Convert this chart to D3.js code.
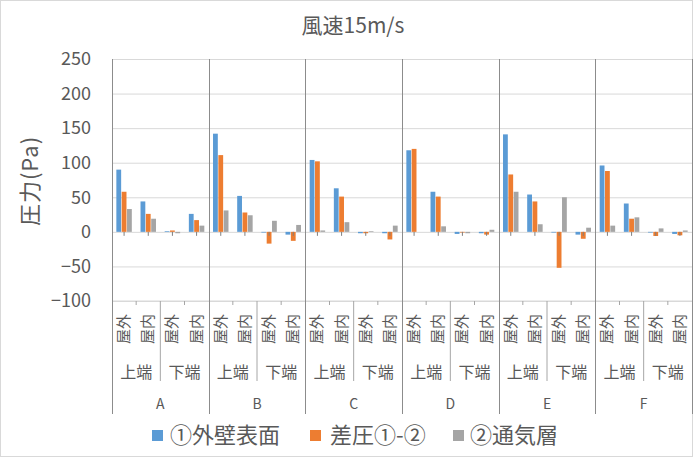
<!DOCTYPE html>
<html>
<head>
<meta charset="utf-8">
<script src="https://cdn.jsdelivr.net/npm/d3@7"></script>
<style>
  body { margin: 0; background: #fff; }
  text { font-family: "Noto Sans CJK JP", "Noto Sans", sans-serif; fill: #595959; }
</style>
</head>
<body>
<div id="chart"></div>
<script>
const groups = ["A", "B", "C", "D", "E", "F"];
const positions = ["上端", "下端"];
const sides = ["屋外", "屋内"];
const seriesNames = ["①外壁表面", "差圧①-②", "②通気層"];
const yTicks = [-100, -50, 0, 50, 100, 150, 200, 250];

// 24 values each: A上外, A上内, A下外, A下内, B上外 ...
const outerWall = [90, 44, 1, 26, 142, 52, -1, -4, 104, 63, -2, -2, 118, 58, -3, -2, 141, 54, -1, -4, 96, 41, -1, -3];
const diffPress = [58, 26, 2, 17, 111, 28, -17, -13, 102, 51, -2, -11, 120, 51, -1, -4, 83, 44, -52, -10, 88, 19, -6, -5];
const airLayer = [33, 19, -2, 9, 31, 24, 16, 10, 2, 14, 1, 9, 0, 8, -2, 3, 58, 11, 50, 6, 9, 21, 5, 2];

const colors = ["#5B9BD5", "#ED7D31", "#A5A5A5"];
const seriesValues = [outerWall, diffPress, airLayer];

const width = 693, height = 457;
const margin = { top: 59, right: 1, bottom: 156, left: 112 };
const plotBottom = height - margin.bottom; // y of -100

const categories = [];
groups.forEach(g => positions.forEach(p => sides.forEach(s => categories.push(`${g}|${p}|${s}`))));

const svg = d3.select("#chart").append("svg")
  .attr("width", width)
  .attr("height", height);

svg.append("rect")
  .attr("x", 0.5).attr("y", 0.5)
  .attr("width", width - 1).attr("height", height - 1)
  .attr("fill", "#fff").attr("stroke", "#d9d9d9");

const x = d3.scaleBand()
  .domain(categories)
  .range([margin.left, width - margin.right])
  .padding(0);

const bw = x.bandwidth();
const xInner = d3.scaleBand()
  .domain(d3.range(3))
  .range([bw * 0.18, bw * 0.82])
  .paddingInner(0.1);

const y = d3.scaleLinear()
  .domain([-100, 250])
  .range([plotBottom, margin.top]);

// gridlines
svg.append("g")
  .attr("transform", `translate(${margin.left},0)`)
  .call(d3.axisLeft(y).tickValues(yTicks).tickSize(-(width - margin.right - margin.left)).tickFormat(""))
  .call(g => g.select(".domain").remove())
  .call(g => g.selectAll(".tick line").attr("stroke", "#d9d9d9").attr("stroke-width", 1));

// y labels
svg.append("g")
  .attr("transform", `translate(${margin.left - 21},0)`)
  .call(d3.axisLeft(y).tickValues(yTicks).tickSize(0).tickPadding(0))
  .call(g => g.select(".domain").remove())
  .call(g => g.selectAll(".tick text")
    .attr("font-size", "18px")
    .attr("fill", "#595959")
    .style("font-family", "'Noto Sans CJK JP', sans-serif"));

// bars
seriesValues.forEach((vals, si) => {
  svg.append("g")
    .selectAll("rect")
    .data(vals)
    .join("rect")
    .attr("x", (d, i) => x(categories[i]) + xInner(si))
    .attr("width", xInner.bandwidth())
    .attr("y", d => y(Math.max(0, d)))
    .attr("height", d => Math.abs(y(d) - y(0)))
    .attr("fill", colors[si]);
});

// small ticks under zero line at category centers
svg.append("g")
  .selectAll("line")
  .data(categories)
  .join("line")
  .attr("x1", d => x(d) + bw / 2)
  .attr("x2", d => x(d) + bw / 2)
  .attr("y1", y(0))
  .attr("y2", y(0) + 4)
  .attr("stroke", "#7f7f7f");

// category axis line at bottom
svg.append("line")
  .attr("x1", margin.left).attr("x2", width - margin.right)
  .attr("y1", plotBottom).attr("y2", plotBottom)
  .attr("stroke", "#d9d9d9");

// ticks between 屋外/屋内
svg.append("g")
  .selectAll("line")
  .data(categories.filter((d, i) => i % 2 === 1))
  .join("line")
  .attr("x1", d => x(d)).attr("x2", d => x(d))
  .attr("y1", plotBottom).attr("y2", plotBottom + 4)
  .attr("stroke", "#a6a6a6");

// sub-group separators (上端/下端)
const subStarts = categories.filter((d, i) => i % 4 === 2);
svg.append("g")
  .selectAll("line")
  .data(subStarts)
  .join("line")
  .attr("x1", d => x(d)).attr("x2", d => x(d))
  .attr("y1", plotBottom).attr("y2", 381)
  .attr("stroke", "#a6a6a6");

// group separators
const groupEdges = groups.map(g => x(`${g}|上端|屋外`)).concat([width - margin.right]);
svg.append("g")
  .selectAll("line")
  .data(groupEdges)
  .join("line")
  .attr("x1", d => Math.round(d) + 0.5).attr("x2", d => Math.round(d) + 0.5)
  .attr("y1", margin.top).attr("y2", 414)
  .attr("stroke", "#8c8c8c");

// side labels (rotated)
svg.append("g")
  .selectAll("text")
  .data(categories)
  .join("text")
  .attr("transform", d => `translate(${x(d) + bw / 2 + 5},329) rotate(-90)`)
  .attr("text-anchor", "middle")
  .attr("font-size", "15px")
  .text(d => d.split("|")[2]);

// position labels
const posKeys = categories.filter((d, i) => i % 2 === 0);
svg.append("g")
  .selectAll("text")
  .data(posKeys)
  .join("text")
  .attr("x", d => x(d) + bw)
  .attr("y", 378)
  .attr("text-anchor", "middle")
  .attr("font-size", "16px")
  .text(d => d.split("|")[1]);

// group labels
svg.append("g")
  .selectAll("text")
  .data(groups)
  .join("text")
  .attr("x", g => x(`${g}|上端|屋外`) + bw * 2)
  .attr("y", 409)
  .attr("text-anchor", "middle")
  .attr("font-size", "14px")
  .text(g => g);

// title
svg.append("text")
  .attr("x", 353)
  .attr("y", 33)
  .attr("text-anchor", "middle")
  .attr("font-size", "21px")
  .text("風速15m/s");

// y axis title
svg.append("text")
  .attr("transform", `translate(38,181) rotate(-90)`)
  .attr("text-anchor", "middle")
  .attr("font-size", "22px")
  .attr("letter-spacing", "1px")
  .text("圧力(Pa)");

// legend
const legendX = [152, 310, 453];
const legendTextX = [18, 20, 17];
const legend = svg.append("g")
  .selectAll("g")
  .data(seriesNames)
  .join("g")
  .attr("transform", (d, i) => `translate(${legendX[i]},430)`);
legend.append("rect")
  .attr("width", 11).attr("height", 11)
  .attr("fill", (d, i) => colors[i]);
legend.append("text")
  .attr("x", (d, i) => legendTextX[i])
  .attr("y", 13)
  .attr("font-size", "22px")
  .text(d => d);
</script>
</body>
</html>
